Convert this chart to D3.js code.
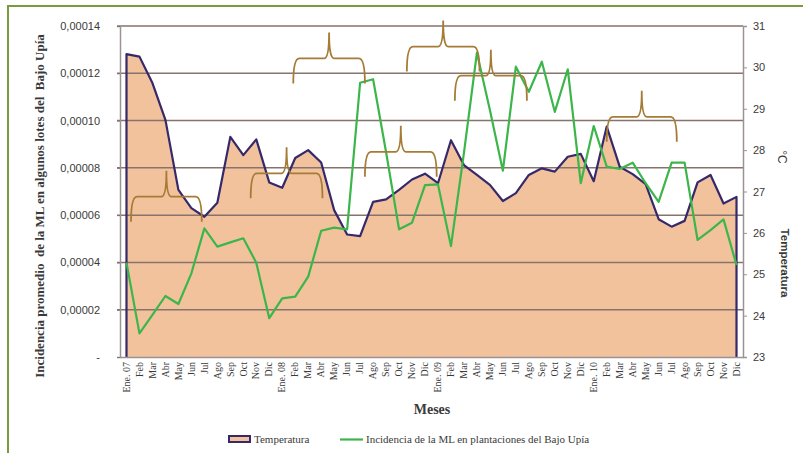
<!DOCTYPE html>
<html>
<head>
<meta charset="utf-8">
<script src="https://cdn.jsdelivr.net/npm/d3@7"></script>
<style>
  body { margin: 0; background: #fff; }
  svg { display: block; }
  text { fill: #3a3a3a; }
</style>
</head>
<body>
<div id="chart"></div>
<script>
const months = [
  "Ene. 07","Feb","Mar","Abr","May","Jun","Jul","Ago","Sep","Oct","Nov","Dic",
  "Ene. 08","Feb","Mar","Abr","May","Jun","Jul","Ago","Sep","Oct","Nov","Dic",
  "Ene. 09","Feb","Mar","Abr","May","Jun","Jul","Ago","Sep","Oct","Nov","Dic",
  "Ene. 10","Feb","Mar","Abr","May","Jun","Jul","Ago","Sep","Oct","Nov","Dic"
]

// temperatura media mensual (°C), eje derecho
const temperatura = [
  30.32, 30.26, 29.62, 28.73, 27.04, 26.60, 26.39, 26.73, 28.32, 27.88, 28.26, 27.22,
  27.09, 27.81, 28.00, 27.70, 26.55, 25.96, 25.92, 26.75, 26.81, 27.04, 27.29, 27.43,
  27.20, 28.24, 27.64, 27.40, 27.16, 26.77, 26.96, 27.40, 27.56, 27.48, 27.84, 27.91,
  27.25, 28.57, 27.60, 27.42, 27.18, 26.33, 26.15, 26.29, 27.22, 27.40, 26.71, 26.87
]

// incidencia de la ML, eje izquierdo
const incidencia = [
  3.99e-5, 1.00e-5, 1.78e-5, 2.58e-5, 2.24e-5, 3.54e-5, 5.44e-5, 4.67e-5, 4.85e-5, 5.02e-5, 3.99e-5, 1.64e-5,
  2.48e-5, 2.55e-5, 3.40e-5, 5.34e-5, 5.47e-5, 5.40e-5, 1.160e-4, 1.175e-4, 8.67e-5, 5.40e-5, 5.68e-5, 7.27e-5,
  7.30e-5, 4.69e-5, 8.63e-5, 1.287e-4, 1.045e-4, 7.88e-5, 1.228e-4, 1.122e-4, 1.249e-4, 1.037e-4, 1.217e-4, 7.35e-5,
  9.77e-5, 8.05e-5, 7.95e-5, 8.22e-5, 7.35e-5, 6.56e-5, 8.22e-5, 8.22e-5, 4.95e-5, 5.37e-5, 5.82e-5, 3.89e-5
]

const leftTicks = [0, 0.00002, 0.00004, 0.00006, 0.00008, 0.00010, 0.00012, 0.00014]
const rightTicks = [23, 24, 25, 26, 27, 28, 29, 30, 31]

// llaves dibujadas sobre el grafico: mes inicial, mes final, nivel (eje izquierdo)
const braceStart = [0.35, 9.57, 12.85, 18.37, 21.6, 25.3, 37.0]
const braceEnd   = [5.8, 15.1, 18.37, 23.9, 27.2, 30.85, 42.4]
const braceLevel = [6.78e-5, 7.77e-5, 1.263e-4, 8.68e-5, 1.313e-4, 1.19e-4, 1.016e-4]

const W = 803, H = 453
const plot = { left: 120, right: 743, top: 26, bottom: 357 }
const serif = "'Liberation Serif', 'Times New Roman', serif"
const sans = "'Liberation Sans', Arial, sans-serif"

const svg = d3.select("#chart").append("svg")
    .attr("width", W)
    .attr("height", H)

// marco verde
svg.append("path")
    .attr("d", "M8," + H + "V6H" + W)
    .attr("fill", "none")
    .attr("stroke", "#7b9a3d")
    .attr("stroke-width", 2)

const x = d3.scaleBand()
    .domain(d3.range(months.length))
    .range([plot.left, plot.right])
const cx = i => x(i) + x.bandwidth() / 2

const yL = d3.scaleLinear()
    .domain([0, 0.00014])
    .range([plot.bottom, plot.top])

const yR = d3.scaleLinear()
    .domain([23, 31])
    .range([plot.bottom, plot.top])

// area de temperatura
const area = d3.area()
    .x((d, i) => cx(i))
    .y0(plot.bottom)
    .y1(d => yR(d))

svg.append("path")
    .datum(temperatura)
    .attr("d", area)
    .attr("fill", "#f2c29d")

// grilla
svg.append("g")
    .selectAll("line")
    .data(leftTicks.slice(1))
    .join("line")
    .attr("x1", plot.left - 3)
    .attr("x2", plot.right)
    .attr("y1", d => yL(d))
    .attr("y2", d => yL(d))
    .attr("stroke", "#86736a")
    .attr("stroke-width", 1.5)

// borde de temperatura (con los lados verticales)
const tempLine = d3.line()
    .x(d => d[0])
    .y(d => d[1])
const tempPts = [[cx(0), plot.bottom]]
    .concat(temperatura.map((d, i) => [cx(i), yR(d)]))
    .concat([[cx(temperatura.length - 1), plot.bottom]])

svg.append("path")
    .attr("d", tempLine(tempPts))
    .attr("fill", "none")
    .attr("stroke", "#36296b")
    .attr("stroke-width", 2.2)
    .attr("stroke-linejoin", "round")

// incidencia
const incLine = d3.line()
    .x((d, i) => cx(i))
    .y(d => yL(d))

svg.append("path")
    .datum(incidencia)
    .attr("d", incLine)
    .attr("fill", "none")
    .attr("stroke", "#3cb64b")
    .attr("stroke-width", 2.2)
    .attr("stroke-linejoin", "round")

// llaves
const bx = v => plot.left + x.step() * (v + 0.5)
function brace(a, b, lv) {
    const x0 = bx(a), x1 = bx(b), xm = (x0 + x1) / 2, y = yL(lv)
    return "M" + x0 + "," + (y + 25) +
        "Q" + x0 + "," + y + " " + (x0 + 6) + "," + y +
        "L" + (xm - 5) + "," + y +
        "Q" + xm + "," + y + " " + xm + "," + (y - 26) +
        "Q" + xm + "," + y + " " + (xm + 5) + "," + y +
        "L" + (x1 - 6) + "," + y +
        "Q" + x1 + "," + y + " " + x1 + "," + (y + 25)
}
svg.append("g")
    .selectAll("path")
    .data(braceStart)
    .join("path")
    .attr("d", (d, i) => brace(d, braceEnd[i], braceLevel[i]))
    .attr("fill", "none")
    .attr("stroke", "#a57b35")
    .attr("stroke-width", 1.8)

// ejes
const fmtL = d => d === 0 ? "-" : d.toFixed(5).replace(".", ",")

const axL = svg.append("g")
    .attr("transform", "translate(" + plot.left + ",0)")
    .call(d3.axisLeft(yL).tickValues(leftTicks).tickFormat(fmtL).tickSize(3).tickPadding(17))
axL.select(".domain").attr("stroke", "#9b9294").attr("stroke-width", 1.5)
axL.selectAll(".tick line").attr("stroke", "#86736a")
axL.selectAll("text").attr("font-family", sans).attr("font-size", 11).attr("fill", "#3a3a3a")

const axR = svg.append("g")
    .attr("transform", "translate(" + plot.right + ",0)")
    .call(d3.axisRight(yR).tickValues(rightTicks).tickSize(4).tickPadding(6))
axR.select(".domain").attr("stroke", "#9b9294").attr("stroke-width", 1.5)
axR.selectAll(".tick line").attr("stroke", "#9b9294")
axR.selectAll("text").attr("font-family", sans).attr("font-size", 11).attr("fill", "#3a3a3a")

const axB = svg.append("g")
    .attr("transform", "translate(0," + plot.bottom + ")")
    .call(d3.axisBottom(x).tickFormat(i => months[i]).tickSize(0))
axB.select(".domain").attr("stroke", "#9b9294").attr("stroke-width", 1.5)
axB.selectAll("text")
    .attr("transform", "rotate(-90)")
    .attr("text-anchor", "end")
    .attr("x", -5)
    .attr("y", 0)
    .attr("dy", "0.32em")
    .attr("font-family", serif)
    .attr("font-size", 10)
    .attr("fill", "#3a3a3a")

// titulos
svg.append("text")
    .attr("transform", "translate(44,206) rotate(-90)")
    .attr("text-anchor", "middle")
    .style("white-space", "pre")
    .attr("font-family", serif)
    .attr("font-weight", "bold")
    .attr("font-size", 13)
    .text("Incidencia promedio  de la ML en algunos lotes del  Bajo Upía")

svg.append("text")
    .attr("transform", "translate(781,263) rotate(90)")
    .attr("text-anchor", "middle")
    .attr("font-family", sans)
    .attr("font-weight", "bold")
    .attr("font-size", 11.5)
    .text("Temperatura")

svg.append("text")
    .attr("transform", "translate(778,157) rotate(90)")
    .attr("text-anchor", "middle")
    .attr("font-family", sans)
    .attr("font-size", 12)
    .text("°C")

svg.append("text")
    .attr("x", 432)
    .attr("y", 414)
    .attr("text-anchor", "middle")
    .attr("font-family", serif)
    .attr("font-weight", "bold")
    .attr("font-size", 14)
    .text("Meses")

// leyenda
const leg = svg.append("g").attr("font-family", serif).attr("font-size", 11)
leg.append("rect")
    .attr("x", 229).attr("y", 436).attr("width", 21).attr("height", 6)
    .attr("fill", "#f2c29d").attr("stroke", "#36296b").attr("stroke-width", 2)
leg.append("text").attr("x", 254).attr("y", 443).text("Temperatura")
leg.append("line")
    .attr("x1", 340).attr("x2", 363).attr("y1", 439.5).attr("y2", 439.5)
    .attr("stroke", "#3cb64b").attr("stroke-width", 2.2)
leg.append("text").attr("x", 366).attr("y", 443).text("Incidencia de la ML en plantaciones del Bajo Upía")
</script>
</body>
</html>
